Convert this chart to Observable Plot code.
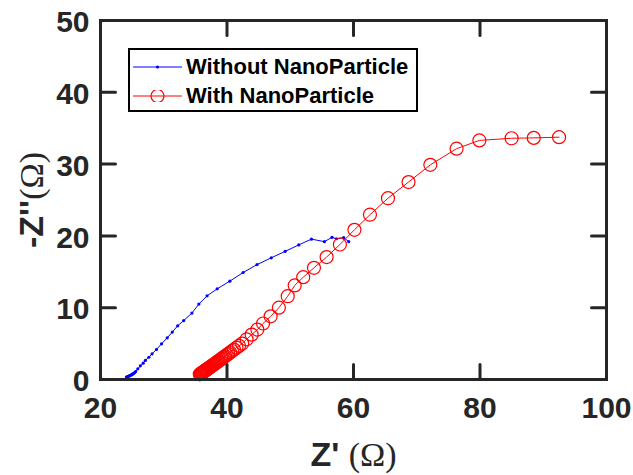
<!DOCTYPE html>
<html>
<head>
<meta charset="utf-8">
<script src="https://cdn.jsdelivr.net/npm/d3@7"></script>
<script src="https://cdn.jsdelivr.net/npm/@observablehq/plot@0.6"></script>
<style>
  html, body { margin: 0; padding: 0; background: #fff; }
  #wrap { position: relative; width: 633px; height: 475px; }
  #legend {
    position: absolute; left: 128px; top: 48px; width: 286px; height: 60px;
    border: 2px solid #000; background: #fff;
    font-family: "Liberation Sans", Arial, sans-serif; font-weight: bold; font-size: 22px; color: #000;
  }
  .row { position: absolute; left: 0; height: 29px; display: flex; align-items: center; }
  .row svg { margin-left: 3px; margin-right: 4px; }
</style>
</head>
<body>
<div id="wrap"></div>
<script>
// Tick values
const xTicks = [20, 40, 60, 80, 100];
const yTicks = [0, 10, 20, 30, 40, 50];

// Series: Without NanoParticle (blue)
const withoutX = [24.1, 24.2, 24.3, 24.4, 24.5, 24.62, 24.75, 24.88, 25.0, 25.12, 25.25, 25.4, 25.55, 25.9, 26.3, 26.75, 27.1, 27.65, 28.15, 28.85, 29.65, 30.55, 31.35, 32.2, 33.15, 34.45, 35.55, 36.85, 38.45, 40.45, 42.55, 44.75, 47.0, 49.2, 51.35, 53.35, 55.4, 56.6, 57.3, 58.45, 59.25];
const withoutY = [0.35, 0.37, 0.4, 0.44, 0.48, 0.53, 0.58, 0.64, 0.7, 0.77, 0.85, 0.97, 1.1, 1.48, 1.9, 2.27, 2.65, 3.1, 3.58, 4.18, 4.97, 5.8, 6.6, 7.48, 8.2, 9.25, 10.5, 11.65, 12.63, 13.7, 14.9, 16.0, 16.95, 17.85, 18.75, 19.55, 19.2, 19.8, 19.6, 19.75, 19.2];

// Series: With NanoParticle (red)
const withX = [35.7, 35.8, 35.9, 36.0, 36.1, 36.2, 36.3, 36.4, 36.5, 36.6, 36.7, 36.8, 36.9, 37.0, 37.1, 37.2, 37.35, 37.5, 37.65, 37.8, 37.95, 38.1, 38.25, 38.4, 38.55, 38.7, 38.9, 39.1, 39.3, 39.5, 39.7, 39.95, 40.2, 40.5, 40.8, 41.1, 41.5, 41.9, 42.4, 43.1, 43.9, 44.8, 45.7, 46.9, 48.2, 49.6, 50.7, 52.05, 53.75, 55.75, 57.85, 60.15, 62.6, 65.45, 68.7, 72.15, 76.3, 79.9, 85.0, 88.5, 92.5];
const withY = [0.72, 0.78, 0.84, 0.9, 0.96, 1.02, 1.08, 1.15, 1.21, 1.27, 1.33, 1.4, 1.46, 1.52, 1.58, 1.65, 1.74, 1.84, 1.93, 2.03, 2.12, 2.22, 2.31, 2.41, 2.51, 2.6, 2.73, 2.86, 2.99, 3.12, 3.25, 3.41, 3.57, 3.77, 3.97, 4.17, 4.43, 4.68, 5.0, 5.6, 6.25, 6.95, 7.8, 8.8, 10.0, 11.6, 13.1, 14.25, 15.55, 17.05, 18.8, 20.85, 22.95, 25.25, 27.5, 29.9, 32.15, 33.3, 33.6, 33.65, 33.75];

const seriesLabels = ["Without NanoParticle", "With NanoParticle"];
const xLabel = "Z' (Ω)";
const yLabel = "-Z''(Ω)";

const blue = withoutX.map((x, i) => ({x, y: withoutY[i]}));
const red = withX.map((x, i) => ({x, y: withY[i]}));

const axisColor = "#262626";
const sans = "'Liberation Sans', Arial, sans-serif";
const tickShape = { draw(ctx, l) { ctx.moveTo(0, 0); ctx.lineTo(0, -l); } };
const innerX = xTicks.slice(1, -1);
const innerY = yTicks.slice(1, -1);
const tickOpts = {length: 15, anchor: "start", shape: tickShape, stroke: axisColor, strokeWidth: 3};

const chart = Plot.plot({
  width: 633,
  height: 475,
  marginLeft: 100,
  marginRight: 27,
  marginTop: 20,
  marginBottom: 96,
  style: {fontFamily: sans, background: "#fff"},
  x: {domain: [20, 100]},
  y: {domain: [0, 50]},
  marks: [
    Plot.line(blue, {x: "x", y: "y", stroke: "#0000ff", strokeWidth: 1}),
    Plot.dot(blue, {x: "x", y: "y", r: 1.6, fill: "#0000ff", stroke: "none"}),
    Plot.line(red, {x: "x", y: "y", stroke: "#ff0000", strokeWidth: 1}),
    Plot.dot(red, {x: "x", y: "y", r: 6.5, stroke: "#ff0000", strokeWidth: 1.2, fill: "none"}),
    Plot.frame({stroke: axisColor, strokeWidth: 3}),
    Plot.vector(innerX, {x: d => d, frameAnchor: "bottom", rotate: 0, ...tickOpts}),
    Plot.vector(innerX, {x: d => d, frameAnchor: "top", rotate: 180, ...tickOpts}),
    Plot.vector(innerY, {y: d => d, frameAnchor: "left", rotate: 90, ...tickOpts}),
    Plot.vector(innerY, {y: d => d, frameAnchor: "right", rotate: -90, ...tickOpts}),
    Plot.axisX({ticks: xTicks, tickSize: 0, tickPadding: 17, fontSize: 30, fontWeight: "bold", fill: axisColor, label: null}),
    Plot.axisY({ticks: yTicks, tickSize: 0, tickPadding: 11, fontSize: 30, fontWeight: "bold", fill: axisColor, label: null, dy: 2}),
    Plot.text([xLabel], {text: d => d, frameAnchor: "bottom", dy: 76, fontSize: 34, fontWeight: "bold", fill: axisColor, lineAnchor: "middle", textAnchor: "middle"}),
    Plot.text([yLabel], {text: d => d, frameAnchor: "left", dx: -68, rotate: -90, fontSize: 34, fontWeight: "bold", fill: axisColor, lineAnchor: "middle", textAnchor: "middle"})
  ]
});

// Render "(Ω)" in a serif regular face as in the original figure
d3.select(chart).selectAll("text").each(function() {
  const t = this.textContent;
  if (t === xLabel || t === yLabel) {
    const i = t.indexOf("(");
    const sel = d3.select(this);
    sel.text("");
    sel.append("tspan").text(t.slice(0, i));
    sel.append("tspan").attr("font-family", "'Liberation Serif', 'Times New Roman', serif").attr("font-weight", "normal").text(t.slice(i));
  }
});

const wrap = document.getElementById("wrap");
wrap.appendChild(chart);

// Legend
const legend = document.createElement("div");
legend.id = "legend";
const colors = ["#0000ff", "#ff0000"];
seriesLabels.forEach((label, i) => {
  const row = document.createElement("div");
  row.className = "row";
  row.style.top = (i === 0 ? 2 : 31) + "px";
  const marker = i === 0
    ? `<circle cx="24.5" cy="6" r="1.6" fill="${colors[i]}"/>`
    : `<circle cx="24.5" cy="6" r="6.5" fill="none" stroke="${colors[i]}" stroke-width="1.2"/>`;
  row.innerHTML = `<svg width="49" height="12"><line x1="0" x2="49" y1="6" y2="6" stroke="${colors[i]}" stroke-width="1"/>${marker}</svg><span>${label}</span>`;
  legend.appendChild(row);
});
wrap.appendChild(legend);
</script>
</body>
</html>
